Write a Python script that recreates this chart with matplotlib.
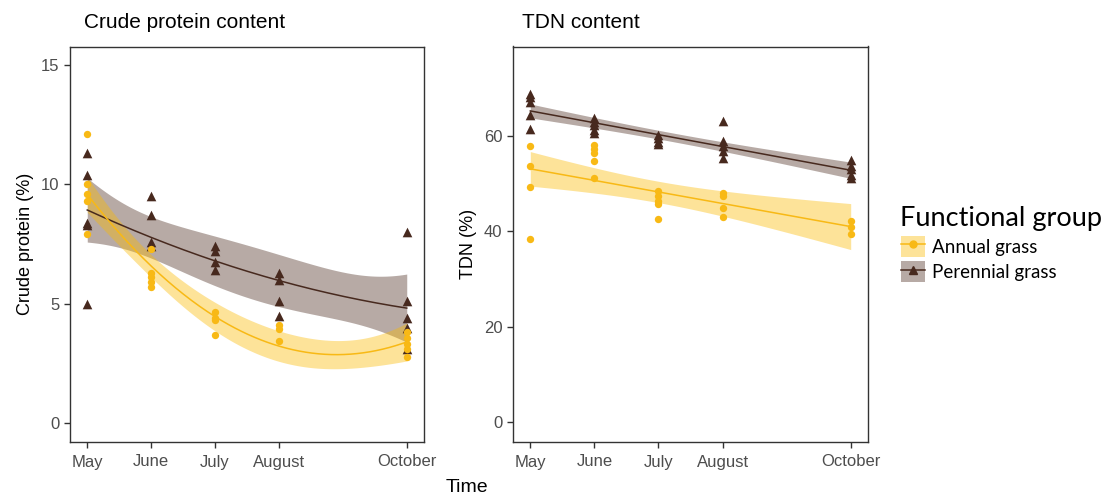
import numpy as np
import matplotlib
matplotlib.use("Agg")
import matplotlib.pyplot as plt
from matplotlib.patches import Patch
from matplotlib.lines import Line2D

plt.rcParams['font.family'] = ['Liberation Sans', 'DejaVu Sans']

month_pos = [5, 6, 7, 8, 10]
month_labels = ['May', 'June', 'July', 'August', 'October']

# crude protein (%), per month
cp_annual = [
    [12.1, 10.0, 9.6, 9.3, 7.9],
    [7.3, 6.3, 6.1, 5.9, 5.7],
    [4.65, 4.4, 4.3, 3.7],
    [4.1, 3.95, 3.45],
    [3.8, 3.55, 3.3, 3.1, 2.75],
]
cp_perennial = [
    [11.3, 10.4, 8.4, 8.3, 5.0],
    [9.5, 8.7, 7.6, 7.4],
    [7.4, 7.2, 6.75, 6.4],
    [6.3, 6.0, 5.1, 4.5],
    [8.0, 5.1, 4.4, 4.0, 3.1],
]
# TDN (%), per month
tdn_annual = [
    [57.9, 53.8, 49.4, 38.5],
    [58.1, 57.2, 56.4, 54.7, 51.3],
    [48.5, 47.4, 46.4, 45.7, 42.6],
    [48.1, 47.4, 44.9, 43.0],
    [42.1, 41.0, 39.4],
]
tdn_perennial = [
    [68.9, 68.1, 67.2, 64.5, 61.5],
    [63.8, 63.0, 62.3, 61.3, 60.6],
    [60.2, 59.6, 58.7, 58.3],
    [63.2, 58.9, 57.9, 56.8, 55.3],
    [54.9, 53.8, 53.0, 51.9, 51.1],
]

c_ann = '#F8B915'
c_per = '#47291E'
f_ann = '#FBBA00'
f_per = '#4B2C20'


def flat(groups):
    xs, ys = [], []
    for m, vals in zip(month_pos, groups):
        xs += [m] * len(vals)
        ys += vals
    return np.array(xs, float), np.array(ys, float)


def smooth(x, y, deg):
    # polynomial lm fit with 95% confidence band
    X = np.vander(x, deg + 1)
    beta, *_ = np.linalg.lstsq(X, y, rcond=None)
    df = len(y) - (deg + 1)
    s2 = np.sum((y - X @ beta) ** 2) / df
    cov = np.linalg.inv(X.T @ X)
    xg = np.linspace(x.min(), x.max(), 200)
    Xg = np.vander(xg, deg + 1)
    fit = Xg @ beta
    se = np.sqrt(s2 * np.einsum('ij,jk,ik->i', Xg, cov, Xg))
    t = 1.96 + 2.4 / df
    return xg, fit, fit - t * se, fit + t * se


def panel(ax, ann, per, deg):
    for groups, col, fcol, mk, s in [(per, c_per, f_per, '^', 48),
                                     (ann, c_ann, f_ann, 'o', 28)]:
        x, y = flat(groups)
        xg, fit, lo, hi = smooth(x, y, deg)
        ax.fill_between(xg, lo, hi, color=fcol, alpha=0.4, lw=0, zorder=1)
        ax.plot(xg, fit, color=col, lw=1.1, zorder=3)
        ax.scatter(x, y, marker=mk, s=s, color=col, lw=0, zorder=4)
    ax.set_xlim(4.73, 10.27)
    ax.set_xticks(month_pos)
    ax.set_xticklabels(month_labels)
    for sp in ax.spines.values():
        sp.set_color('#333333')
        sp.set_linewidth(1.0)
    ax.tick_params(colors='#333333', labelcolor='#4D4D4D', labelsize=12,
                   length=4, width=1.0)
    ax.tick_params(axis='x', pad=5)


fig = plt.figure(figsize=(11.03, 4.96), dpi=100)
ax1 = fig.add_axes([70 / 1103, 54 / 496, 354 / 1103, 395.5 / 496])
ax2 = fig.add_axes([513 / 1103, 54 / 496, 355 / 1103, 395.5 / 496])

panel(ax1, cp_annual, cp_perennial, 2)
ax1.set_ylim(-0.8, 15.78)
ax1.set_yticks([0, 5, 10, 15])
ax1.set_ylabel('Crude protein (%)', fontsize=13, labelpad=5)

panel(ax2, tdn_annual, tdn_perennial, 1)
ax2.set_ylim(-4.2, 78.8)
ax2.set_yticks([0, 20, 40, 60])
ax2.set_ylabel('TDN (%)', fontsize=13, labelpad=5)

fig.text(84 / 1103, 1 - 22 / 496, 'Crude protein content', fontsize=15, va='center')
fig.text(522 / 1103, 1 - 22 / 496, 'TDN content', fontsize=15, va='center')
fig.text(467 / 1103, 1 - 487 / 496, 'Time', fontsize=14, ha='center', va='center')

h_ann = (Patch(facecolor=f_ann, alpha=0.4, lw=0),
         Line2D([], [], color=c_ann, marker='o', markersize=5, lw=1.1))
h_per = (Patch(facecolor=f_per, alpha=0.4, lw=0),
         Line2D([], [], color=c_per, marker='^', markersize=6, lw=1.1))
leg = fig.legend([h_ann, h_per], ['Annual grass', 'Perennial grass'],
                 title='Functional group', loc='upper left',
                 bbox_to_anchor=(893 / 1103, 1 - 199 / 496), frameon=False,
                 prop={'family': 'Lato', 'size': 13.5}, handlelength=1.3,
                 handleheight=1.3, handletextpad=0.4, labelspacing=0.25,
                 borderaxespad=0)
leg.get_title().set_fontfamily('Lato')
leg.get_title().set_fontsize(19.5)
leg._legend_box.align = 'left'

fig.savefig('out.png', dpi=100)
